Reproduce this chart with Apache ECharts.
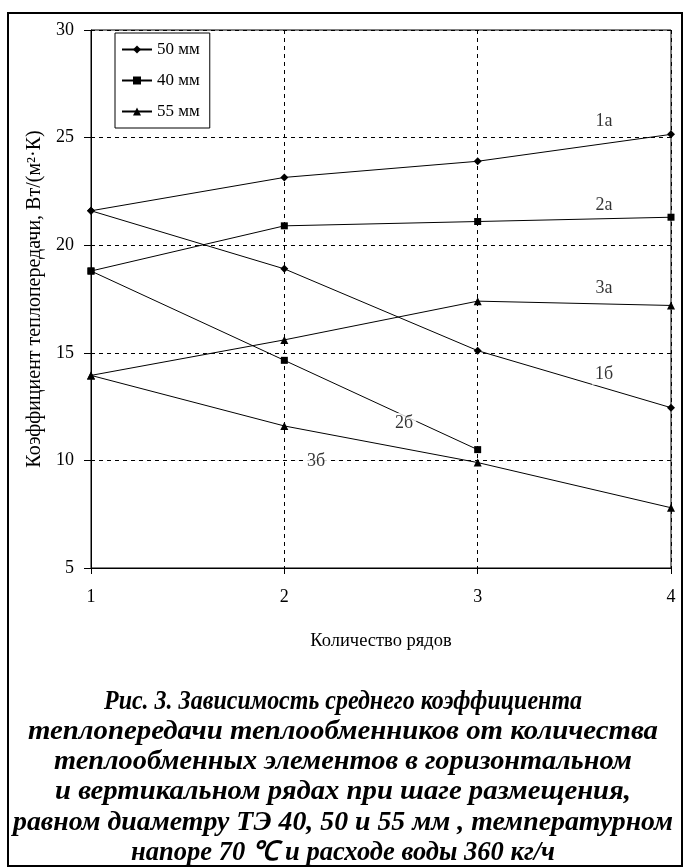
<!DOCTYPE html>
<html><head><meta charset="utf-8">
<script src="https://cdn.jsdelivr.net/npm/echarts@6/dist/echarts.min.js"></script>
<style>html,body{margin:0;padding:0;background:#fff}#c{width:684px;height:868px}</style>
</head><body><div id="c"></div>
<script>
// Data
const rows = [1, 2, 3, 4];
const s1a = [21.6, 23.15, 23.9, 25.15];
const s1b = [21.6, 18.9, 15.1, 12.45];
const s2a = [18.8, 20.9, 21.1, 21.3];
const s2b = [18.8, 14.65, 10.5];
const s3a = [13.95, 15.6, 17.4, 17.2];
const s3b = [13.95, 11.6, 9.9, 7.8];
const legendNames = ['50 мм', '40 мм', '55 мм'];
const yTicks = [5, 10, 15, 20, 25, 30];
const curveLabels = [
  ['1а', 3.654, 25.74], ['2а', 3.654, 21.84], ['3а', 3.654, 18.02],
  ['1б', 3.654, 13.98], ['2б', 2.62, 11.74], ['3б', 2.164, 9.98]
];
const captionLines = [
  'Рис. 3. Зависимость среднего коэффициента',
  'теплопередачи теплообменников от количества',
  'теплообменных элементов в горизонтальном',
  'и вертикальном рядах при шаге размещения,',
  'равном диаметру ТЭ 40, 50 и 55 мм , температурном',
  'напоре 70 \u2103 и расходе воды 360 кг/ч'
];
// layout of caption lines (target widths in px, centre y)
const captionWidths = [478, 630, 578, 576, 660, 424];
const captionY = [702, 732, 762, 792, 823, 853];

const FONT = '"Liberation Serif", "Times New Roman", serif';
const CAP_FONT = 'italic bold 27px "Liberation Serif", "Times New Roman", serif';
const mctx = document.createElement('canvas').getContext('2d');
mctx.font = CAP_FONT;
const captionGraphics = captionLines.map((t, i) => {
  const w = mctx.measureText(t).width;
  return {
    type: 'text', x: 343, y: captionY[i], scaleX: captionWidths[i] / w, z: 50,
    style: {text: t, font: CAP_FONT, fill: '#000', textAlign: 'center', textVerticalAlign: 'middle'}
  };
});

function pts(arr) { return arr.map((v, i) => [rows[i], v]); }
const symbols = {'50 мм': ['diamond', 8], '40 мм': ['rect', 7], '55 мм': ['triangle', 8]};
function line(name, arr) {
  return {
    type: 'line', name: name, data: pts(arr), symbol: symbols[name][0], symbolSize: symbols[name][1],
    lineStyle: {color: '#000', width: 1}, itemStyle: {color: '#000'}, animation: false, z: 3
  };
}
const chart = echarts.init(document.getElementById('c'), null, {renderer: 'canvas'});
chart.setOption({
  backgroundColor: '#fff',
  animation: false,
  textStyle: {fontFamily: FONT},
  legend: {
    data: legendNames, orient: 'vertical', left: 115, top: 33,
    borderColor: '#000', borderWidth: 1, backgroundColor: '#fff', padding: [8, 10, 8, 6],
    itemGap: 14, itemWidth: 30, itemHeight: 10,
    textStyle: {fontFamily: FONT, fontSize: 17, color: '#000'}
  },
  grid: {left: 91, right: 13, top: 30, bottom: 300, show: true, borderColor: '#000', borderWidth: 1, backgroundColor: '#fff'},
  xAxis: {
    type: 'value', min: 1, max: 4, interval: 1,
    name: 'Количество рядов', nameLocation: 'middle', nameGap: 64,
    nameTextStyle: {fontFamily: FONT, fontSize: 18.5, color: '#000'},
    axisLine: {lineStyle: {color: '#000', width: 1}},
    axisTick: {show: true, length: 6, lineStyle: {color: '#000'}},
    axisLabel: {fontFamily: FONT, fontSize: 18, color: '#000', margin: 20},
    splitLine: {show: true, lineStyle: {color: '#000', type: [4, 4], width: 1}}
  },
  yAxis: {
    type: 'value', min: yTicks[0], max: yTicks[yTicks.length - 1], interval: 5,
    name: 'Коэффициент теплопередачи, Вт/(м²·К)', nameLocation: 'middle', nameGap: 44,
    nameTextStyle: {fontFamily: FONT, fontSize: 20, color: '#000'},
    axisLine: {show: true, lineStyle: {color: '#000', width: 1}},
    axisTick: {show: true, length: 7, lineStyle: {color: '#000'}},
    axisLabel: {fontFamily: FONT, fontSize: 18, color: '#000', margin: 17},
    splitLine: {show: true, lineStyle: {color: '#000', type: [4, 4], width: 1}}
  },
  graphic: captionGraphics.concat([
    {type: 'rect', shape: {x: 8, y: 13, width: 674, height: 853}, style: {fill: null, stroke: '#000', lineWidth: 2}, z: 100}
  ]),
  series: [
    line('50 мм', s1a), line('50 мм', s1b),
    line('40 мм', s2a), line('40 мм', s2b),
    line('55 мм', s3a), line('55 мм', s3b),
    {
      type: 'scatter', name: 'labels', data: curveLabels.map(l => ({value: [l[1], l[2]], name: l[0]})),
      symbolSize: 0, z: 5, silent: true,
      label: {show: true, position: 'inside', formatter: p => p.name, fontFamily: FONT, fontSize: 18, color: '#000',
        backgroundColor: '#fff', padding: [1, 3]}
    }
  ]
});
</script>
</body></html>
